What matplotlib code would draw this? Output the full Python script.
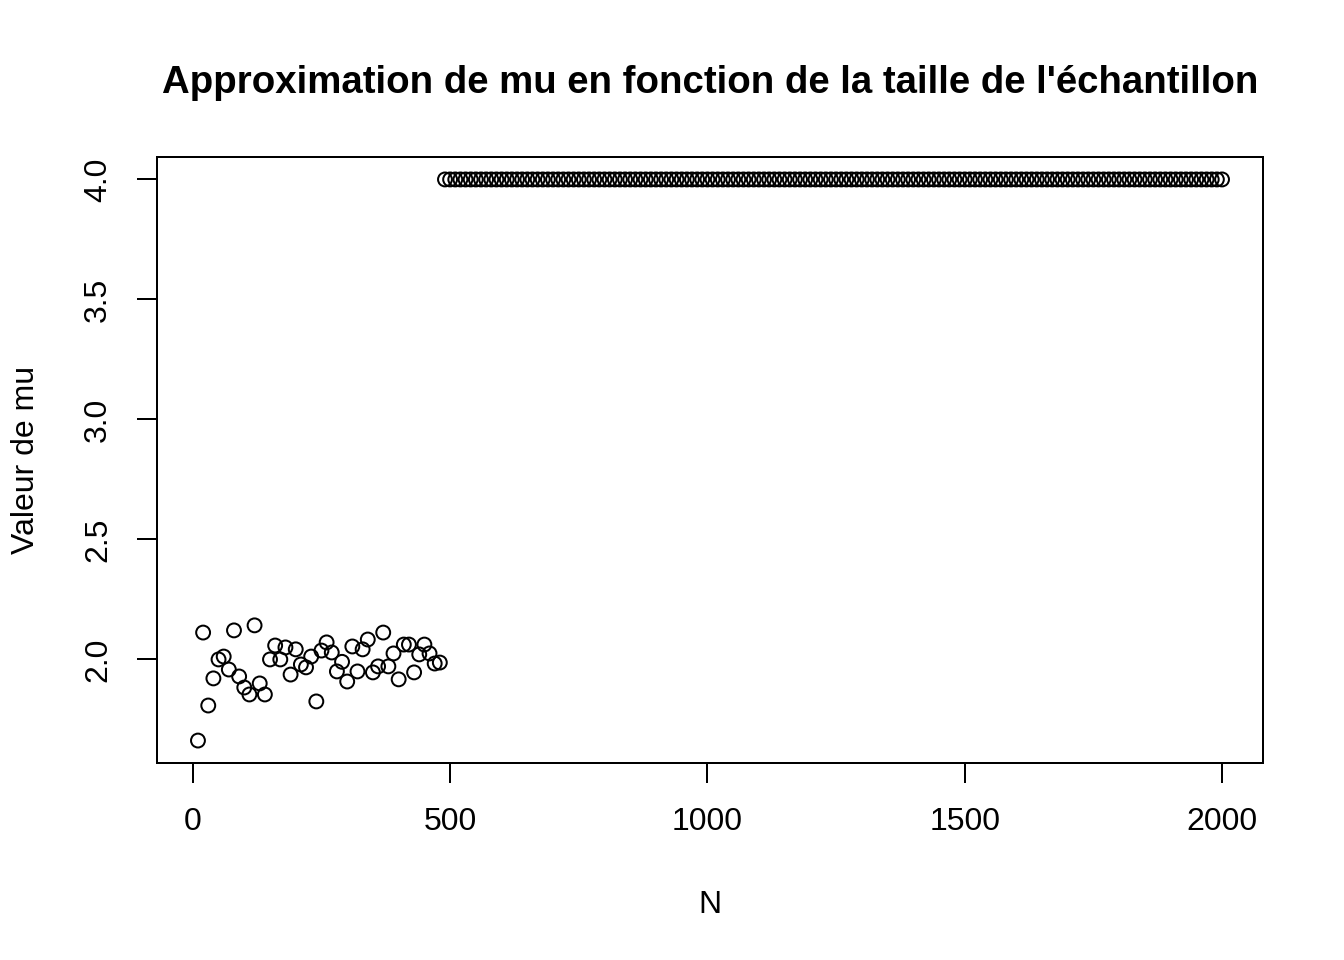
import numpy as np
import matplotlib.pyplot as plt

plt.rcParams['font.family'] = ['Liberation Sans', 'DejaVu Sans']

# sample sizes and estimated mu
n_low = [10, 20, 30, 40, 50, 60, 70, 80, 90, 100, 110, 120, 130, 140, 150,
         160, 170, 180, 190, 200, 210, 220, 230, 240, 250, 260, 270, 280,
         290, 300, 310, 320, 330, 340, 350, 360, 370, 380, 390, 400, 410,
         420, 430, 440, 450, 460, 470, 480]
mu_low = [1.662, 2.112, 1.808, 1.921, 2.000, 2.012, 1.958, 2.121, 1.929,
          1.883, 1.854, 2.142, 1.900, 1.854, 2.000, 2.058, 2.000, 2.050,
          1.937, 2.042, 1.979, 1.967, 2.012, 1.825, 2.037, 2.071, 2.029,
          1.950, 1.990, 1.908, 2.054, 1.950, 2.042, 2.083, 1.946, 1.971,
          2.112, 1.971, 2.025, 1.917, 2.062, 2.062, 1.946, 2.021, 2.062,
          2.025, 1.983, 1.987]
# from N = 490 onward the estimate sticks at 4
n_high = list(range(490, 2001, 10))
mu_high = [4.0] * len(n_high)

N = n_low + n_high
mu = mu_low + mu_high

fig = plt.figure(figsize=(7, 5), dpi=192)
ax = fig.add_axes([157 / 1344, 1 - 763 / 960, (1263 - 157) / 1344,
                   (763 - 157) / 960])

ax.scatter(N, mu, s=5.2 ** 2, facecolors='none', edgecolors='black',
           linewidths=0.75)

xr = max(N) - min(N)
yr = max(mu) - min(mu)
ax.set_xlim(min(N) - 0.04 * xr, max(N) + 0.04 * xr)
ax.set_ylim(min(mu) - 0.04 * yr, max(mu) + 0.04 * yr)

ax.set_xticks([0, 500, 1000, 1500, 2000])
ax.set_yticks([2.0, 2.5, 3.0, 3.5, 4.0])
ax.set_yticklabels(["2.0", "2.5", "3.0", "3.5", "4.0"], rotation=90,
                   va='center')
ax.tick_params(direction='out', length=7.5, width=0.75, labelsize=12,
               pad=9)
for sp in ax.spines.values():
    sp.set_linewidth(0.75)

ax.set_xlabel("N", fontsize=12, labelpad=20)
ax.set_ylabel("Valeur de mu", fontsize=12)
ax.yaxis.set_label_coords(-0.105, 0.5)
ax.set_title("Approximation de mu en fonction de la taille de l'échantillon",
             fontsize=14.4, fontweight='bold', pad=24)

plt.savefig("out.png", dpi=192)
